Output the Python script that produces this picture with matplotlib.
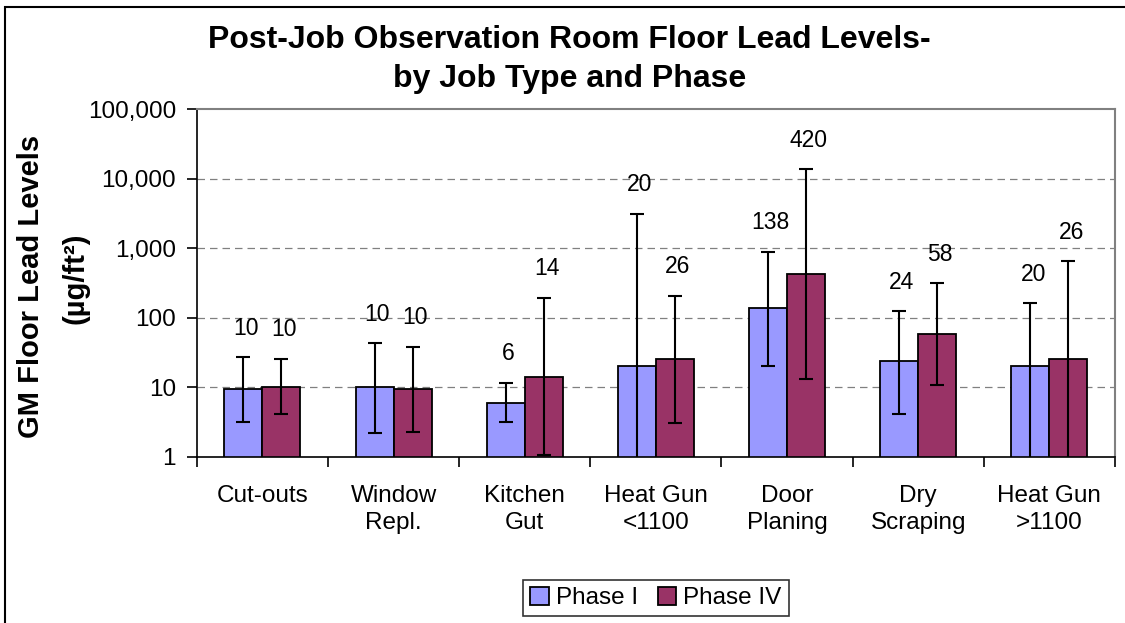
import matplotlib
matplotlib.use("Agg")
import matplotlib.pyplot as plt
import numpy as np
from matplotlib.patches import Rectangle
from matplotlib.ticker import FixedLocator, NullLocator

plt.rcParams['font.family'] = ['Liberation Sans', 'DejaVu Sans']

categories = ["Cut-outs", "Window\nRepl.", "Kitchen\nGut", "Heat Gun\n<1100",
              "Door\nPlaning", "Dry\nScraping", "Heat Gun\n>1100"]

# geometric means (bar heights) and error bar ends
phase1 = [9.6, 10.2, 6, 20, 138, 24, 20]
phase4 = [10.2, 9.6, 14, 26, 420, 58, 26]
phase1_low = [3.2, 2.2, 3.2, 0.5, 20.5, 4.2, 0.5]
phase1_high = [27, 43, 11.5, 3130, 890, 124, 162]
phase4_low = [4.2, 2.3, 1.06, 3.05, 13, 10.7, 0.5]
phase4_high = [25.6, 38, 194, 208, 13600, 313, 648]

c1 = "#9999FF"
c4 = "#993366"

fig = plt.figure(figsize=(11.25, 6.23), dpi=100)
ax = fig.add_axes([0.175, 0.2665, 0.816, 0.5585])

# outer chart frame (bottom/right fall outside the picture)
fig.patches.append(Rectangle((5/1125, -0.1), 1.2, 1 - 7/623 + 0.1, transform=fig.transFigure,
                             fill=False, edgecolor="black", linewidth=1.5))

x = np.arange(len(categories))
w = 0.29

ax.set_yscale("log")
ax.set_ylim(1, 100000)
ax.set_xlim(-0.5, len(categories) - 0.5)

for vals, lo, hi, col, off, lab in [(phase1, phase1_low, phase1_high, c1, -w/2, "Phase I"),
                                    (phase4, phase4_low, phase4_high, c4, w/2, "Phase IV")]:
    vals = np.array(vals)
    ax.bar(x + off, vals, width=w, color=col, edgecolor="black",
           linewidth=1.3, label=lab, zorder=2)
    yerr = [vals - np.array(lo), np.array(hi) - vals]
    ax.errorbar(x + off, vals, yerr=yerr, fmt="none", ecolor="black",
                elinewidth=1.5, capsize=5, capthick=1.5, zorder=3)
    for xi, v, h in zip(x + off, vals, hi):
        ax.annotate(f"{v:.0f}", (xi, h), xytext=(2, 21), textcoords="offset points",
                    ha="center", va="center", fontsize=16.5)

# grid
for g in [10, 100, 1000, 10000]:
    ax.axhline(g, color="#808080", linestyle=(0, (6, 4)), linewidth=0.9, zorder=1)

ax.yaxis.set_major_locator(FixedLocator([1, 10, 100, 1000, 10000, 100000]))
ax.yaxis.set_minor_locator(NullLocator())
ax.set_yticklabels(["1", "10", "100", "1,000", "10,000", "100,000"], fontsize=17.5)
ax.tick_params(axis="y", length=7, width=1.2, pad=8)

ax.set_xticks(x)
ax.set_xticklabels(categories, fontsize=17.5, linespacing=1.32)
ax.tick_params(axis="x", length=0, pad=20)
ax.set_xticks(np.arange(len(categories) + 1) - 0.5, minor=True)
ax.tick_params(axis="x", which="minor", length=7, width=1.2)

for s in ["top", "right"]:
    ax.spines[s].set_color("#808080")
    ax.spines[s].set_linewidth(1.5)
for s in ["left", "bottom"]:
    ax.spines[s].set_color("black")
    ax.spines[s].set_linewidth(1.2)

fig.text(0.0275, 0.541, "GM Floor Lead Levels", rotation=90, ha="center", va="center",
         fontsize=21, fontweight="bold")
fig.text(0.067, 0.553, "(µg/ft²)", rotation=90, ha="center", va="center",
         fontsize=21, fontweight="bold")

fig.text(0.506, 0.905, "Post-Job Observation Room Floor Lead Levels-\nby Job Type and Phase",
         ha="center", va="center", fontsize=23, fontweight="bold", linespacing=1.38)

leg = ax.legend(loc="center", bbox_to_anchor=(0.583, 1 - 598/623), bbox_transform=fig.transFigure,
                ncol=2, fontsize=17.5, frameon=True, fancybox=False, edgecolor="black",
                handlelength=0.75, handleheight=0.75, handletextpad=0.3, columnspacing=0.8,
                borderpad=0.3)
leg.get_frame().set_linewidth(1.2)

fig.savefig("out.png", dpi=100)
